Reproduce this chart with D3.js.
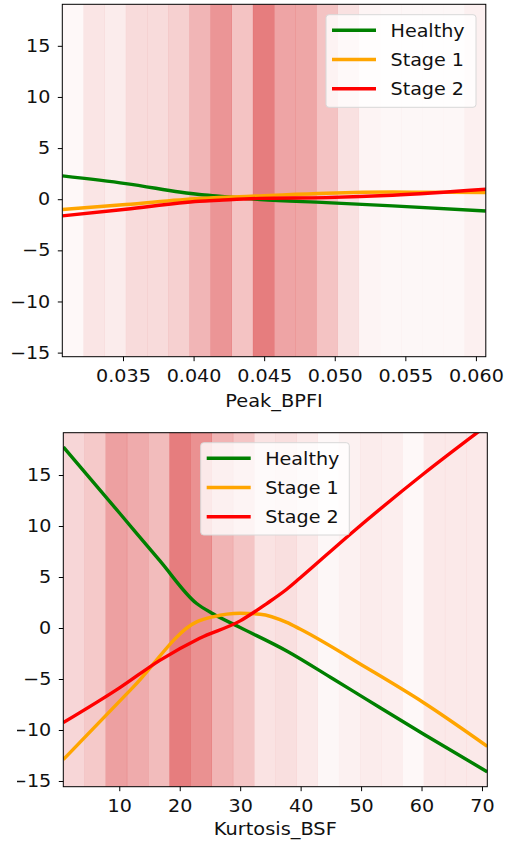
<!DOCTYPE html>
<html>
<head>
<meta charset="utf-8">
<script src="https://cdn.jsdelivr.net/npm/d3@7"></script>
<style>
	body { margin: 0; background: #fff; }
	text { font-family: 'DejaVu Sans', sans-serif; fill: #111; }
	.wide { transform-box: fill-box; transform: scaleX(1.1); }
	.yaxis .tick text { transform-origin: right center; }
	.xaxis .tick text, .xlabel { transform-origin: center center; }
	.legend text { transform-origin: left center; }
</style>
</head>
<body>
<svg id="chart" width="505" height="841"></svg>
<script>
// Feature effect plots: shaded bands = sample density, lines = per-class effect

const seriesNames = ['Healthy', 'Stage 1', 'Stage 2']
const seriesColors = ['green', 'orange', 'red']
const yTicks = [-15, -10, -5, 0, 5, 10, 15]

// Peak_BPFI panel
const peakEdges = [0.0307, 0.0322, 0.0337, 0.0352, 0.0367, 0.0382, 0.0397, 0.0412, 0.0427, 0.0442, 0.0457,
	0.0472, 0.0487, 0.0502, 0.0517, 0.0532, 0.0547, 0.0562, 0.0577, 0.0592, 0.0607]
const peakDensity = [0.03, 0.12, 0.09, 0.17, 0.17, 0.22, 0.34, 0.49, 0.28, 0.6, 0.42, 0.41, 0.28, 0.14,
	0.05, 0.04, 0.04, 0.04, 0.04, 0.07]
const peakX = [0.0307, 0.0352, 0.0404, 0.0418, 0.0447, 0.0494, 0.0541, 0.0607]
const peakHealthy = [2.28, 1.53, 0.46, 0.3, -0.03, -0.33, -0.65, -1.15]
const peakStage1 = [-1.0, -0.52, 0.07, 0.17, 0.33, 0.59, 0.7, 0.65]
const peakStage2 = [-1.63, -0.98, -0.2, -0.1, 0.08, 0.16, 0.39, 0.98]
const peakTicks = [0.035, 0.040, 0.045, 0.050, 0.055, 0.060]

// Kurtosis_BSF panel
const kurtEdges = [0.74, 4.25, 7.75, 11.26, 14.77, 18.28, 21.78, 25.29, 28.80, 32.30, 35.81,
	39.32, 42.82, 46.33, 49.84, 53.35, 56.85, 60.36, 63.87, 67.37, 70.88]
const kurtDensity = [0.19, 0.25, 0.44, 0.39, 0.31, 0.6, 0.51, 0.35, 0.27, 0.13, 0.15, 0.1, 0.04,
	0.065, 0.09, 0.08, 0.03, 0.1, 0.1, 0.1]
const kurtHealthyX = [0.74, 10, 16.7, 22.8, 25.5, 30, 37.7, 45.4, 50.9, 60.3, 70.88]
const kurtHealthy = [17.75, 11.3, 6.6, 2.4, 1.4, 0.05, -2.25, -5.0, -7.0, -10.4, -14.1]
const kurtStage1X = [0.74, 12.3, 22.8, 25.5, 30, 33.3, 37.7, 39.9, 50.9, 60.3, 70.88]
const kurtStage1 = [-12.9, -5.8, 0.6, 1.1, 1.44, 1.35, 0.55, -0.1, -3.9, -7.3, -11.6]
const kurtStage2X = [0.74, 10.1, 16.7, 23.3, 30, 34.4, 37.7, 39.9, 48.2, 60.3, 70.88]
const kurtStage2 = [-9.28, -5.85, -3.17, -1.0, 0.7, 2.4, 3.8, 4.9, 9.2, 15.1, 19.9]
const kurtTicks = [10, 20, 30, 40, 50, 60, 70]

const svg = d3.select('#chart')

const drawPanel = (cfg) => {
	let g = svg.append('g')
	let x = d3.scaleLinear().domain(cfg.xDomain).range([cfg.left, cfg.right])
	let y = d3.scaleLinear().domain(cfg.yDomain).range([cfg.bottom, cfg.top])

	g.append('clipPath').attr('id', cfg.id + '-clip')
		.append('rect')
		.attr('x', cfg.left).attr('y', cfg.top)
		.attr('width', cfg.right - cfg.left).attr('height', cfg.bottom - cfg.top)

	// density bands
	g.append('g').selectAll('rect')
		.data(cfg.density)
		.enter()
		.append('rect')
		.attr('x', (d, i) => x(cfg.edges[i]))
		.attr('y', cfg.top)
		.attr('width', (d, i) => x(cfg.edges[i + 1]) - x(cfg.edges[i]) + 0.3)
		.attr('height', cfg.bottom - cfg.top)
		.attr('fill', '#d62728')
		.attr('fill-opacity', d => d)

	// class lines
	let line = d3.line()
		.x(d => x(d[0]))
		.y(d => y(d[1]))
		.curve(d3.curveMonotoneX)

	g.append('g').attr('clip-path', `url(#${cfg.id}-clip)`)
		.selectAll('path')
		.data(cfg.series)
		.enter()
		.append('path')
		.attr('d', s => line(s.xs.map((v, i) => [v, s.ys[i]])))
		.attr('fill', 'none')
		.attr('stroke', (s, i) => seriesColors[i])
		.attr('stroke-width', 3.4)
		.attr('stroke-linejoin', 'round')

	// axes
	let yAxis = g.append('g')
		.attr('class', 'yaxis')
		.attr('transform', `translate(${cfg.left},0)`)
		.call(d3.axisLeft(y).tickValues(yTicks).tickSize(4.5).tickPadding(7.5)
			.tickFormat(d => d < 0 ? '\u2212' + Math.abs(d) : d))
	if (cfg.labelClip) {
		// the lower panel's labels are cut off on the left in the original
		yAxis.append('clipPath').attr('id', cfg.id + '-yclip')
			.append('rect')
			.attr('x', cfg.labelClip - cfg.left).attr('y', cfg.top - 20)
			.attr('width', 200).attr('height', cfg.bottom - cfg.top + 40)
		yAxis.attr('clip-path', `url(#${cfg.id}-yclip)`)
	}

	g.append('g')
		.attr('class', 'xaxis')
		.attr('transform', `translate(0,${cfg.bottom})`)
		.call(d3.axisBottom(x).tickValues(cfg.ticks).tickSize(4.5).tickPadding(8).tickFormat(cfg.format))

	g.selectAll('.domain').remove()
	g.selectAll('.tick line').attr('stroke', '#000').attr('stroke-width', 1)
	g.selectAll('.tick text')
		.attr('class', 'wide')
		.attr('fill', '#111')
		.style('font-size', '17.4px')
		.style('font-family', "'DejaVu Sans', sans-serif")

	// frame
	g.append('rect')
		.attr('x', cfg.left).attr('y', cfg.top)
		.attr('width', cfg.right - cfg.left).attr('height', cfg.bottom - cfg.top)
		.attr('fill', 'none')
		.attr('stroke', '#000')
		.attr('stroke-width', 1)

	g.append('text')
		.attr('class', 'xlabel wide')
		.attr('x', (cfg.left + cfg.right) / 2)
		.attr('y', cfg.labelY)
		.attr('text-anchor', 'middle')
		.style('font-size', '17.6px')
		.text(cfg.label)

	// legend
	let lg = g.append('g').attr('class', 'legend')
	lg.append('rect')
		.attr('x', cfg.legend.x).attr('y', cfg.legend.y)
		.attr('width', cfg.legend.w).attr('height', cfg.legend.h)
		.attr('rx', 3)
		.attr('fill', '#fff').attr('fill-opacity', 0.8)
		.attr('stroke', '#d8d8d8')

	let items = lg.selectAll('g.item')
		.data(seriesNames)
		.enter()
		.append('g')
		.attr('class', 'item')
		.attr('transform', (d, i) => `translate(${cfg.legend.x},${cfg.legend.y + 15.5 + i * 29.3})`)
	items.append('line')
		.attr('x1', 6).attr('x2', 50)
		.attr('stroke', (d, i) => seriesColors[i])
		.attr('stroke-width', 3.4)
	items.append('text')
		.attr('class', 'wide')
		.attr('x', 64.5)
		.attr('y', 6.3)
		.style('font-size', '17.4px')
		.text(d => d)
}

drawPanel({
	id: 'peak',
	left: 62.3, right: 485.8, top: 4.3, bottom: 356.7,
	xDomain: [0.0307, 0.0607], yDomain: [-15.4, 19.06],
	edges: peakEdges, density: peakDensity,
	series: [
		{ xs: peakX, ys: peakHealthy },
		{ xs: peakX, ys: peakStage1 },
		{ xs: peakX, ys: peakStage2 }
	],
	ticks: peakTicks, format: d3.format('.3f'),
	label: 'Peak_BPFI', labelY: 407,
	legend: { x: 326, y: 14.7, w: 150, h: 92.6 }
})

drawPanel({
	id: 'kurt',
	left: 63.3, right: 487.3, top: 432.7, bottom: 786.7,
	xDomain: [0.74, 70.88], yDomain: [-15.56, 19.15],
	edges: kurtEdges, density: kurtDensity,
	series: [
		{ xs: kurtHealthyX, ys: kurtHealthy },
		{ xs: kurtStage1X, ys: kurtStage1 },
		{ xs: kurtStage2X, ys: kurtStage2 }
	],
	ticks: kurtTicks, format: d3.format('d'),
	label: 'Kurtosis_BSF', labelY: 835,
	labelClip: 17,
	legend: { x: 200.7, y: 442.7, w: 148.6, h: 92.3 }
})
</script>
</body>
</html>
